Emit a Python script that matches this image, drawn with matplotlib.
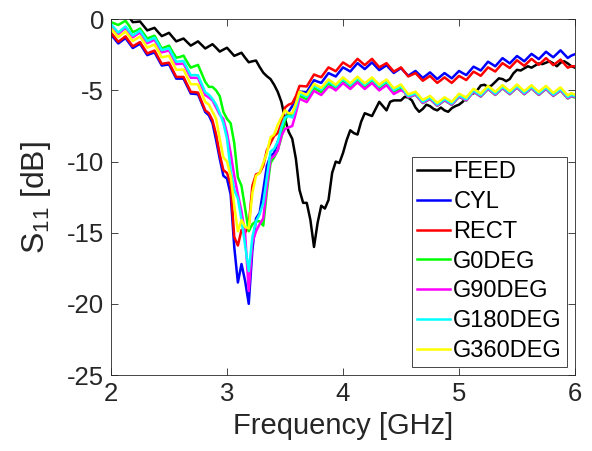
import matplotlib
matplotlib.use('Agg')
import matplotlib.pyplot as plt
import numpy as np

plt.rcParams['font.family'] = ['Liberation Sans', 'DejaVu Sans']
plt.rcParams['mathtext.fontset'] = 'custom'
plt.rcParams['mathtext.rm'] = 'Liberation Sans'
plt.rcParams['mathtext.it'] = 'Liberation Sans:italic'
plt.rcParams['axes.unicode_minus'] = False

# frequency sweep (GHz), 129 points from 2 to 6 GHz
freq = np.linspace(2.0, 6.0, 129)

feed = [1.1, 0.75, 0.4, 0.45, 0.5, 0.15, -0.2, -0.18,
        -0.15, -0.47, -0.78, -0.69, -0.6, -0.9, -1.18, -1.07,
        -0.95, -1.25, -1.55, -1.45, -1.35, -1.6, -1.85, -1.7,
        -1.55, -1.8, -2.05, -1.9, -1.75, -2.0, -2.27, -2.13,
        -2.0, -2.28, -2.57, -2.46, -2.35, -2.7, -3.02, -2.95,
        -2.9, -3.35, -3.75, -4.0, -4.2, -4.6, -5.1, -5.8,
        -7.0, -7.9, -8.4, -9.8, -12.0, -12.9, -12.9, -14.1,
        -16.0, -14.3, -13.1, -13.3, -12.7, -10.8, -10.0, -10.1,
        -9.4, -8.5, -7.8, -8.0, -8.1, -7.2, -6.6, -6.7,
        -6.8, -6.3, -5.8, -6.1, -6.4, -5.8, -5.7, -5.7,
        -5.7, -5.45, -5.5, -5.7, -6.2, -6.5, -6.3, -6.0,
        -6.1, -6.3, -6.4, -6.2, -6.4, -6.5, -6.25, -6.1,
        -6.0, -5.8, -5.5, -5.3, -5.2, -5.0, -4.65, -4.6,
        -4.75, -4.65, -4.4, -4.15, -4.2, -4.35, -4.2, -3.8,
        -3.55, -3.6, -3.45, -3.3, -3.4, -3.25, -3.1, -3.15,
        -3.05, -2.95, -3.1, -3.3, -3.05, -2.95, -3.1, -3.3,
        -3.4]

cyl = [-1.07, -1.38, -1.7, -1.51, -1.32, -1.67, -2.02, -1.87,
       -1.72, -2.12, -2.52, -2.42, -2.32, -2.78, -3.25, -3.21,
       -3.17, -3.67, -4.17, -4.17, -4.17, -4.7, -5.22, -5.24,
       -5.27, -5.9, -6.52, -6.75, -7.3, -8.5, -9.8, -11.0,
       -11.2, -12.3, -16.0, -18.5, -17.2, -18.4, -20.0, -16.2,
       -14.0, -13.6, -12.0, -10.3, -9.6, -9.4, -8.6, -8.0,
       -7.1, -6.5, -6.1, -5.7, -5.08, -5.1, -5.12, -4.7,
       -4.28, -4.38, -4.47, -4.13, -3.78, -3.9, -4.02, -3.7,
       -3.38, -3.52, -3.67, -3.38, -3.08, -3.29, -3.5, -3.26,
       -3.03, -3.3, -3.57, -3.4, -3.23, -3.5, -3.77, -3.6,
       -3.43, -3.7, -3.97, -3.8, -3.63, -3.88, -4.12, -3.93,
       -3.73, -3.96, -4.2, -3.99, -3.78, -3.96, -4.15, -3.89,
       -3.63, -3.78, -3.92, -3.62, -3.33, -3.46, -3.6, -3.29,
       -2.98, -3.14, -3.3, -3.01, -2.73, -2.91, -3.1, -2.84,
       -2.58, -2.76, -2.95, -2.69, -2.43, -2.61, -2.8, -2.54,
       -2.28, -2.48, -2.67, -2.43, -2.18, -2.45, -2.72, -2.55,
       -2.45]

rect = [-0.95, -1.26, -1.58, -1.39, -1.2, -1.55, -1.9, -1.75,
        -1.6, -2.0, -2.4, -2.3, -2.2, -2.66, -3.13, -3.09,
        -3.05, -3.55, -4.05, -4.05, -4.05, -4.58, -5.1, -5.12,
        -5.15, -5.78, -6.4, -6.6, -7.1, -8.1, -9.5, -10.6,
        -10.8, -11.6, -15.3, -15.9, -14.8, -15.0, -14.5, -11.7,
        -10.9, -10.8, -10.3, -9.2, -8.7, -8.2, -8.0, -7.3,
        -6.2, -6.0, -5.9, -5.4, -4.68, -4.7, -4.72, -4.3,
        -3.88, -3.98, -4.07, -3.73, -3.38, -3.51, -3.65, -3.34,
        -3.03, -3.19, -3.35, -3.06, -2.78, -3.0, -3.22, -3.0,
        -2.78, -3.08, -3.37, -3.23, -3.08, -3.38, -3.67, -3.53,
        -3.38, -3.7, -4.02, -3.9, -3.78, -4.05, -4.32, -4.15,
        -3.98, -4.22, -4.47, -4.28, -4.08, -4.28, -4.47, -4.23,
        -3.98, -4.12, -4.27, -3.98, -3.68, -3.82, -3.97, -3.68,
        -3.38, -3.52, -3.67, -3.38, -3.08, -3.25, -3.42, -3.15,
        -2.88, -3.08, -3.27, -3.03, -2.78, -2.99, -3.2, -2.96,
        -2.73, -2.98, -3.22, -3.03, -2.83, -3.11, -3.4, -3.3,
        -3.3]

g0deg = [-0.2, -0.3, -0.4, -0.25, -0.1, -0.45, -0.9, -0.8,
         -0.65, -1.0, -1.35, -1.25, -1.15, -1.6, -2.05, -1.95,
         -1.85, -2.3, -2.7, -2.65, -2.55, -3.0, -3.4, -3.3,
         -3.2, -3.8, -4.4, -4.75, -4.75, -5.0, -5.4, -6.5,
         -7.0, -7.3, -8.7, -11.1, -11.7, -13.3, -14.9, -14.4,
         -14.2, -14.2, -14.5, -12.1, -10.1, -9.7, -9.2, -8.3,
         -7.1, -6.6, -6.8, -6.2, -5.38, -5.5, -5.62, -5.22,
         -4.83, -4.98, -5.12, -4.83, -4.53, -4.71, -4.9, -4.64,
         -4.38, -4.59, -4.8, -4.56, -4.33, -4.56, -4.8, -4.59,
         -4.38, -4.64, -4.9, -4.71, -4.53, -4.84, -5.15, -5.01,
         -4.88, -5.14, -5.49, -5.4, -5.3, -5.6, -5.89, -5.75,
         -5.6, -5.85, -6.09, -5.9, -5.7, -5.86, -6.02, -5.73,
         -5.45, -5.58, -5.72, -5.41, -5.1, -5.27, -5.44, -5.17,
         -4.9, -5.11, -5.32, -5.08, -4.85, -5.06, -5.27, -5.03,
         -4.8, -5.03, -5.27, -5.06, -4.85, -5.08, -5.32, -5.11,
         -4.9, -5.15, -5.39, -5.2, -5.0, -5.28, -5.57, -5.41,
         -5.5]

g90deg = [-0.45, -0.74, -1.04, -0.82, -0.61, -0.94, -1.27, -1.09,
          -0.92, -1.3, -1.68, -1.56, -1.43, -1.87, -2.32, -2.26,
          -2.19, -2.67, -3.15, -3.13, -3.11, -3.61, -4.11, -4.11,
          -4.12, -4.73, -5.33, -5.5, -5.7, -6.2, -6.7, -7.0,
          -8.0, -9.4, -11.0, -12.3, -13.5, -15.1, -19.1, -15.7,
          -14.9, -14.4, -14.0, -11.8, -9.8, -9.6, -9.2, -8.2,
          -7.7, -7.6, -7.5, -6.6, -5.58, -5.7, -5.82, -5.42,
          -5.03, -5.18, -5.32, -5.03, -4.73, -4.81, -5.0, -4.74,
          -4.48, -4.69, -4.9, -4.66, -4.43, -4.66, -4.9, -4.69,
          -4.48, -4.74, -5.0, -4.81, -4.63, -4.94, -5.25, -5.11,
          -4.98, -5.12, -5.47, -5.38, -5.28, -5.58, -5.87, -5.73,
          -5.58, -5.83, -6.07, -5.88, -5.68, -5.84, -6.0, -5.71,
          -5.43, -5.56, -5.7, -5.39, -5.08, -5.25, -5.42, -5.15,
          -4.88, -5.09, -5.3, -5.06, -4.83, -5.04, -5.25, -5.01,
          -4.78, -5.01, -5.25, -5.04, -4.83, -5.06, -5.3, -5.09,
          -4.88, -5.13, -5.37, -5.18, -4.98, -5.26, -5.55, -5.39,
          -5.45]

g180deg = [-0.35, -0.63, -0.93, -0.71, -0.5, -0.82, -1.14, -0.97,
           -0.79, -1.17, -1.54, -1.41, -1.29, -1.72, -2.17, -2.1,
           -2.03, -2.51, -2.98, -2.96, -2.93, -3.43, -3.93, -3.92,
           -3.93, -4.53, -5.12, -5.3, -5.6, -6.0, -6.6, -7.3,
           -8.4, -10.6, -12.0, -12.6, -14.1, -15.9, -17.7, -15.3,
           -14.2, -13.7, -12.9, -11.1, -9.3, -9.1, -8.6, -7.6,
           -6.9, -6.8, -6.9, -6.2, -5.2, -5.32, -5.44, -5.04,
           -4.65, -4.8, -4.94, -4.65, -4.35, -4.53, -4.72, -4.46,
           -4.2, -4.41, -4.62, -4.38, -4.15, -4.38, -4.62, -4.41,
           -4.2, -4.46, -4.72, -4.53, -4.35, -4.66, -4.97, -4.83,
           -4.7, -5.04, -5.39, -5.3, -5.2, -5.5, -5.79, -5.65,
           -5.5, -5.75, -5.99, -5.8, -5.6, -5.76, -5.92, -5.63,
           -5.35, -5.48, -5.62, -5.31, -5.0, -5.17, -5.34, -5.07,
           -4.8, -5.01, -5.22, -4.98, -4.75, -4.96, -5.17, -4.93,
           -4.7, -4.93, -5.17, -4.96, -4.75, -4.98, -5.22, -5.01,
           -4.8, -5.05, -5.29, -5.1, -4.9, -5.18, -5.47, -5.31,
           -5.4]

g360deg = [-0.65, -0.95, -1.26, -1.06, -0.86, -1.19, -1.53, -1.37,
           -1.21, -1.6, -1.99, -1.88, -1.77, -2.22, -2.67, -2.62,
           -2.57, -3.06, -3.55, -3.54, -3.53, -4.05, -4.56, -4.56,
           -4.58, -5.2, -5.81, -6.0, -6.5, -7.0, -8.4, -9.7,
           -10.0, -11.0, -13.1, -14.9, -14.1, -14.6, -14.7, -12.2,
           -11.0, -10.8, -10.1, -9.4, -8.3, -8.1, -7.4, -6.9,
           -6.4, -6.6, -6.6, -5.9, -5.08, -5.2, -5.32, -4.92,
           -4.53, -4.68, -4.82, -4.53, -4.23, -4.41, -4.6, -4.34,
           -4.08, -4.29, -4.5, -4.26, -4.03, -4.26, -4.5, -4.29,
           -4.08, -4.34, -4.6, -4.41, -4.23, -4.54, -4.85, -4.71,
           -4.58, -4.92, -5.27, -5.18, -5.08, -5.38, -5.67, -5.53,
           -5.38, -5.63, -5.87, -5.68, -5.48, -5.64, -5.8, -5.51,
           -5.23, -5.36, -5.5, -5.19, -4.88, -5.05, -5.22, -4.95,
           -4.68, -4.89, -5.1, -4.86, -4.63, -4.84, -5.05, -4.81,
           -4.58, -4.81, -5.05, -4.84, -4.63, -4.86, -5.1, -4.89,
           -4.68, -4.93, -5.17, -4.98, -4.78, -5.06, -5.35, -5.19,
           -5.3]

series_names = ['FEED', 'CYL', 'RECT', 'G0DEG', 'G90DEG', 'G180DEG', 'G360DEG']
series_values = [feed, cyl, rect, g0deg, g90deg, g180deg, g360deg]
series_colors = ['#000000', '#0000ff', '#ff0000', '#00ff00', '#ff00ff', '#00ffff', '#ffff00']

x_ticks = [2, 3, 4, 5, 6]
y_ticks = [-25, -20, -15, -10, -5, 0]

axc = '#262626'
fig = plt.figure(figsize=(5.92, 4.51), dpi=100)
ax = fig.add_axes([0.1875, 0.1685, 0.7838, 0.7887])

for name, vals, col in zip(series_names, series_values, series_colors):
    ax.plot(freq, vals, color=col, lw=1.8, label=name)

ax.set_xlim(2, 6)
ax.set_ylim(-25, 0)
ax.set_xticks(x_ticks)
ax.set_yticks(y_ticks)
ax.set_xticklabels([str(t) for t in x_ticks])
ax.set_yticklabels([str(t) for t in y_ticks])
ax.tick_params(direction='in', top=True, right=True, length=5, width=0.6,
               labelsize=18.5, colors=axc, pad=5)
for s in ax.spines.values():
    s.set_color(axc)
    s.set_linewidth(0.6)

ax.set_xlabel('Frequency [GHz]', fontsize=21, color=axc, labelpad=4)
ax.set_ylabel(r'S$_{\mathrm{11}}$ [dB]', fontsize=23, color=axc, labelpad=10)

leg = ax.legend(loc='lower right', fontsize=17, handlelength=1.4, handletextpad=0.15,
                labelspacing=0.33, borderpad=0.2, borderaxespad=0.35,
                fancybox=False, framealpha=1, edgecolor=axc)
leg.get_frame().set_linewidth(0.6)
for t in leg.get_texts():
    t.set_color('#000000')

fig.savefig('out.png', dpi=100)
